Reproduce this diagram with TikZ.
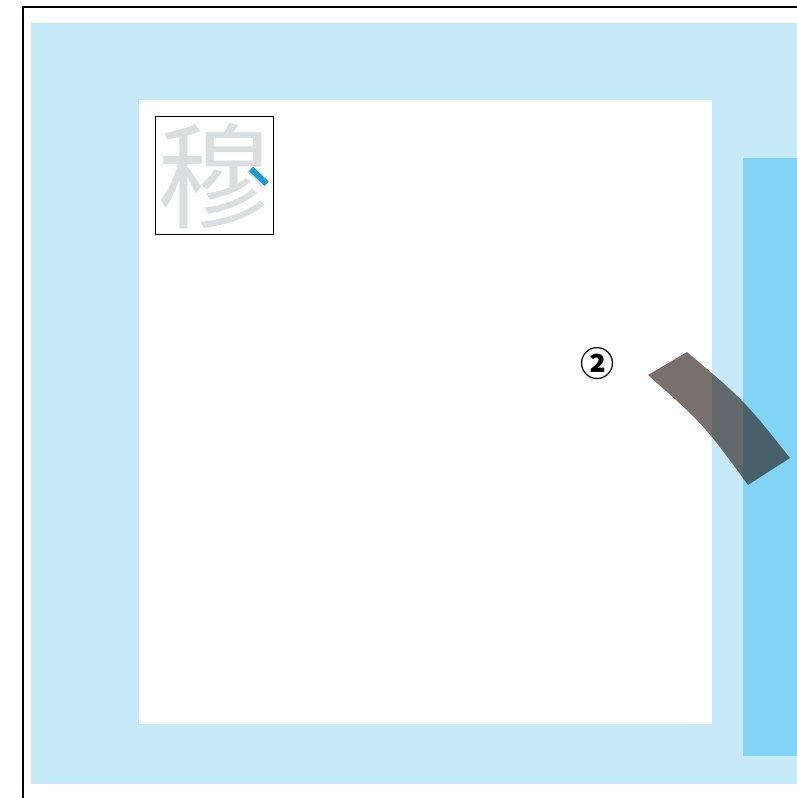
\documentclass[tikz,border=0pt]{standalone}
\usepackage{fontspec}
\newfontfamily\cjk{Noto Sans CJK JP}
\definecolor{lightblue}{RGB}{198,233,248}
\definecolor{midblue}{RGB}{130,212,247}
\definecolor{kanjigray}{RGB}{220,221,222}
\definecolor{strokeblue}{RGB}{27,158,213}
\definecolor{bandbrown}{RGB}{38,25,19}
\tikzset{
  panel/.style={fill=#1, draw=none},
  charbox/.style={draw=black, line width=0.9pt, fill=none},
}
\begin{document}
\begin{tikzpicture}[x=1pt,y=-1pt]
\useasboundingbox (0,0) rectangle (796,798);
\fill[white] (0,0) rectangle (796,798);
% outer frame (open on right and bottom)
\draw[black, line width=1.6pt] (23,830) -- (23,7) -- (830,7);
% light blue field
\fill[panel=lightblue] (31,23) rectangle (800,783.5);
% white page
\fill[panel=white] (139,100) rectangle (711.5,723.5);
% darker blue strip
\fill[panel=midblue] (743.3,158) rectangle (800,756);
% character box
\draw[charbox] (155.5,116.5) rectangle (273.5,234.5);
\node[inner sep=0pt, text=kanjigray, font=\cjk\fontsize{114}{114}\selectfont] (kanji) at (214.5,176) {穆};
\draw[strokeblue, line width=6pt] (251,169) -- (266.8,183.8);
% circled number
\node[inner sep=0pt, font=\cjk\bfseries\fontsize{34}{34}\selectfont] (num) at (597.5,363.3) {②};
% curved band
\fill[bandbrown, fill opacity=0.62]
  (687,352) .. controls (743.7,399.9) .. (790,458)
  -- (748,485) .. controls (703.9,424.6) .. (648,375) -- cycle;
\end{tikzpicture}
\end{document}
